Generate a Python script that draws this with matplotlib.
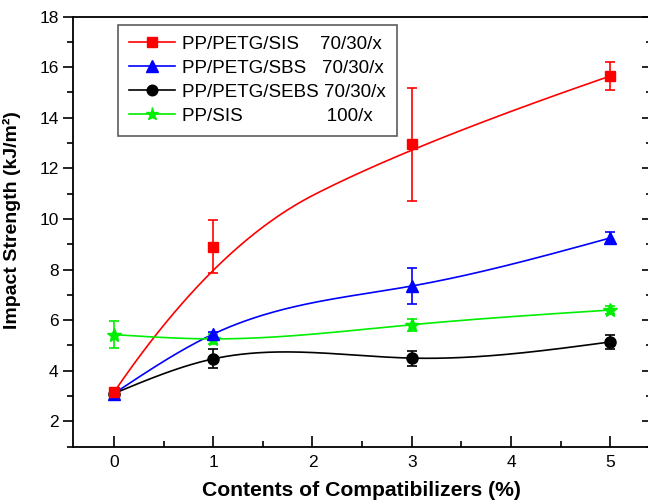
import matplotlib

matplotlib.use("Agg")
import matplotlib.pyplot as plt
import numpy as np
from matplotlib.lines import Line2D
from matplotlib.ticker import MultipleLocator

plt.rcParams["font.family"] = ["Liberation Sans", "DejaVu Sans"]

# Compatibilizer content (%)
contents = [0, 1, 3, 5]

# Impact strength (kJ/m^2) and error bars
sis_vals = [3.15, 8.9, 12.95, 15.65]
sis_err = [0.1, 1.05, 2.22, 0.55]
sbs_vals = [3.1, 5.45, 7.35, 9.25]
sbs_err = [0.15, 0.1, 0.7, 0.22]
sebs_vals = [3.1, 4.47, 4.5, 5.14]
sebs_err = [0.1, 0.38, 0.3, 0.26]
ppsis_vals = [5.43, 5.26, 5.82, 6.4]
ppsis_err = [0.53, 0.2, 0.23, 0.15]

labels = [
    "PP/PETG/SIS    70/30/x",
    "PP/PETG/SBS   70/30/x",
    "PP/PETG/SEBS 70/30/x",
    "PP/SIS                100/x",
]
colors = ["#ff0000", "#0000ff", "#000000", "#00ee00"]
markers = ["s", "^", "o", "*"]
marker_sizes = [7.5, 9, 8, 10]
# curve type per series: B-spline (approximating) or interpolating spline
curve_kinds = ["bspline", "spline", "spline", "spline"]

X_LABEL = "Contents of Compatibilizers (%)"
Y_LABEL = "Impact Strength (kJ/m²)"


def _natural_spline(x, y, xs):
    """Natural cubic spline through (x, y), evaluated at xs."""
    x = np.asarray(x, float)
    y = np.asarray(y, float)
    n = len(x)
    h = np.diff(x)
    a = np.zeros((n, n))
    b = np.zeros(n)
    a[0, 0] = a[-1, -1] = 1.0
    for i in range(1, n - 1):
        a[i, i - 1] = h[i - 1]
        a[i, i] = 2 * (h[i - 1] + h[i])
        a[i, i + 1] = h[i]
        b[i] = 6 * ((y[i + 1] - y[i]) / h[i] - (y[i] - y[i - 1]) / h[i - 1])
    m = np.linalg.solve(a, b)
    idx = np.clip(np.searchsorted(x, xs) - 1, 0, n - 2)
    x0, x1 = x[idx], x[idx + 1]
    hh = x1 - x0
    t0, t1 = x1 - xs, xs - x0
    cy = (
        m[idx] * t0**3 / (6 * hh)
        + m[idx + 1] * t1**3 / (6 * hh)
        + (y[idx] / hh - m[idx] * hh / 6) * t0
        + (y[idx + 1] / hh - m[idx + 1] * hh / 6) * t1
    )
    return xs, cy


def _quad_bspline(x, y, n_seg=100):
    """Clamped quadratic B-spline using the data points as control points."""
    pts = np.column_stack([x, y]).astype(float)
    inner = pts[1:-1]
    mids = (inner[:-1] + inner[1:]) / 2
    starts = np.vstack([pts[:1], mids])
    ends = np.vstack([mids, pts[-1:]])
    u = np.linspace(0, 1, n_seg)[:, None]
    parts = []
    for p0, p1, p2 in zip(starts, inner, ends):
        parts.append((1 - u) ** 2 * p0 + 2 * u * (1 - u) * p1 + u**2 * p2)
    curve = np.vstack(parts)
    return curve[:, 0], curve[:, 1]


def main() -> None:
    fig = plt.figure(figsize=(6.48, 5.03), dpi=100)
    ax = fig.add_axes([0.113, 0.112, 0.890, 0.855])

    series = [
        (sis_vals, sis_err),
        (sbs_vals, sbs_err),
        (sebs_vals, sebs_err),
        (ppsis_vals, ppsis_err),
    ]
    xs = np.linspace(contents[0], contents[-1], 300)
    handles = []
    for k, (vals, err) in enumerate(series):
        if curve_kinds[k] == "bspline":
            cx, cy = _quad_bspline(contents, vals)
        else:
            cx, cy = _natural_spline(contents, vals, xs)
        ax.plot(cx, cy, color=colors[k], lw=1.2, zorder=2)
        ax.errorbar(
            contents, vals, yerr=err, fmt=markers[k], color=colors[k],
            ms=marker_sizes[k], capsize=3.5, elinewidth=1.2, capthick=1.2,
            zorder=3 + (3 - k) * 0.1,
        )
        handles.append(
            Line2D([], [], color=colors[k], marker=markers[k], lw=1.2,
                   ms=marker_sizes[k] * 0.95)
        )

    ax.set_xlim(-0.41, 5.4)
    ax.set_ylim(1, 18)
    ax.xaxis.set_major_locator(MultipleLocator(1))
    ax.xaxis.set_minor_locator(MultipleLocator(0.5))
    ax.yaxis.set_major_locator(MultipleLocator(2))
    ax.yaxis.set_minor_locator(MultipleLocator(1))
    ax.set_yticks(np.arange(2, 19, 2))
    ax.tick_params(axis="x", which="both", direction="in", top=False, labelsize=12.5, pad=6)
    ax.tick_params(axis="x", which="major", length=8, width=1.2)
    ax.tick_params(axis="x", which="minor", length=4.5, width=1.2)
    ax.tick_params(axis="y", which="both", direction="out", labelsize=12.5)
    ax.tick_params(axis="y", which="major", length=7, width=1.2)
    ax.tick_params(axis="y", which="minor", length=4, width=1.2)
    for side in ("left", "bottom", "top", "right"):
        ax.spines[side].set_linewidth(1.3)

    # inward ticks on the right side
    ax_r = ax.secondary_yaxis("right")
    ax_r.yaxis.set_major_locator(MultipleLocator(2))
    ax_r.yaxis.set_minor_locator(MultipleLocator(1))
    ax_r.tick_params(which="both", direction="in", labelright=False, width=1.2)
    ax_r.tick_params(which="major", length=6)
    ax_r.tick_params(which="minor", length=3)

    ax.set_xlabel(X_LABEL, fontsize=15.2, fontweight="bold", labelpad=8)
    ax.set_ylabel(Y_LABEL, fontsize=14, fontweight="bold")
    ax.yaxis.set_label_coords(-0.09, 0.526)

    leg = ax.legend(
        handles, labels, loc="upper left", bbox_to_anchor=(0.061, 1.003),
        fontsize=13.5, frameon=True, fancybox=False, handlelength=2.45,
        handletextpad=0.4, labelspacing=0.36, borderpad=0.6,
    )
    leg.get_frame().set_edgecolor("#333333")
    leg.get_frame().set_linewidth(1.2)

    fig.savefig("out.png", dpi=100)
    plt.close(fig)


if __name__ == "__main__":
    main()
